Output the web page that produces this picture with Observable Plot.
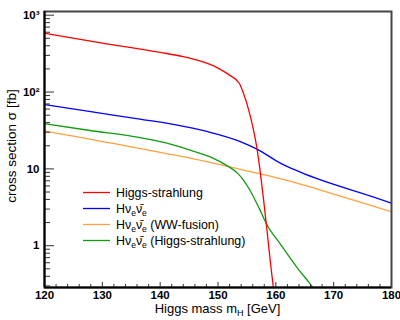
<!DOCTYPE html>
<html><head><meta charset="utf-8">
<script src="https://cdn.jsdelivr.net/npm/d3@7"></script>
<script src="https://cdn.jsdelivr.net/npm/@observablehq/plot@0.6"></script>
<style>body{margin:0;background:#fff} svg{display:block}</style>
</head><body><div id="chart"></div>
<script>
// Higgs-strahlung (e+e- -> ZH)
const hsMass  = [120,130,140,144,147,150,152,153.7,154.42,155.28,156.15,156.79,157.36,158.0,158.61,159.13,159.62,159.9];
const hsSigma = [580,434,328,289,252,205,166,129,95.6,59.6,31.7,17.4,8.5,3.33,1.27,0.548,0.267,0.18];
// H nu_e nubar_e (total)
const nnMass  = [120,128,136.5,142.3,148.1,153.85,156.74,160.77,164.24,179.83,180];
const nnSigma = [68.7,55.5,44.4,37.9,30.7,22.7,18.1,11.9,9.08,3.61,3.57];
// H nu_e nubar_e (WW-fusion)
const wwMass  = [120,125,130,135,140,145,150,155,160,165,170,175,180];
const wwSigma = [31,26.6,22.7,19.4,16.4,13.9,11.5,9.44,7.69,6.12,4.7,3.61,2.77];
// H nu_e nubar_e (Higgs-strahlung)
const zhMass  = [120,127.86,136.53,140.86,145.19,148.65,151.82,153.33,154.42,155.41,156.45,157.32,158.35,160.78,163.67,165.97,167.0];
const zhSigma = [38.8,31.6,25.5,21.9,17.5,14.3,10.7,8.87,7.1,5.48,3.87,2.86,1.95,1.05,0.52,0.316,0.25];

const xTicks = [120,130,140,150,160,170,180];
const xMinorTicks = d3.range(122,180,2).filter(v => v % 10 !== 0);
const yTicks = [1,10,100,1000];
const yTickLabels = ["1","10","10²","10³"];
const yMinorTicks = [0.3,0.4,0.5,0.6,0.7,0.8,0.9,2,3,4,5,6,7,8,9,20,30,40,50,60,70,80,90,200,300,400,500,600,700,800,900];

const seriesNames = ["Higgs-strahlung","Hν_e ν̄_e","Hν_e ν̄_e (WW-fusion)","Hν_e ν̄_e (Higgs-strahlung)"];
const seriesColors = ["#ff0000","#0000ff","#ffa040","#109a10"];

const W = 400, H = 320, mL = 44, mR = 9, mT = 11, mB = 33;
const plotW = W - mL - mR, plotH = H - mT - mB;
const yDomain = [0.286, 1117];
const font = "'Liberation Sans', Arial, Helvetica, sans-serif";

const toRows = (m, s) => m.map((x, i) => ({x, y: s[i]}));
const lineOpts = (c) => ({x: "x", y: "y", stroke: c, strokeWidth: 1.3, curve: "monotone-x", clip: true});

const chart = Plot.plot({
  width: W, height: H,
  marginLeft: mL, marginRight: mR, marginTop: mT, marginBottom: mB,
  style: {fontFamily: font, background: "#fff"},
  x: {domain: [120, 180], axis: null},
  y: {type: "log", domain: yDomain, axis: null},
  marks: [
    Plot.line(toRows(wwMass, wwSigma), lineOpts(seriesColors[2])),
    Plot.line(toRows(zhMass, zhSigma), lineOpts(seriesColors[3])),
    Plot.line(toRows(nnMass, nnSigma), lineOpts(seriesColors[1])),
    Plot.line(toRows(hsMass, hsSigma), lineOpts(seriesColors[0])),
    Plot.tickX(xMinorTicks, {x: d => d, insetTop: plotH - 3, stroke: "#333", strokeWidth: 1}),
    Plot.tickX(xTicks, {x: d => d, insetTop: plotH - 5, stroke: "#333", strokeWidth: 1}),
    Plot.tickY(yMinorTicks, {y: d => d, insetRight: plotW - 6, stroke: "#333", strokeWidth: 1}),
    Plot.tickY(yTicks, {y: d => d, insetRight: plotW - 10, stroke: "#333", strokeWidth: 1}),
    Plot.frame({stroke: "#444", strokeWidth: 2}),
    Plot.ruleX([120], {stroke: "#000", strokeWidth: 2}),
    Plot.ruleY([yDomain[0]], {stroke: "#000", strokeWidth: 2}),
    Plot.text(xTicks, {x: d => d, frameAnchor: "bottom", dy: 11, text: d => String(d), fontSize: 11.5, fontWeight: "bold", fill: "#000"}),
    Plot.text(yTicks, {y: d => d, frameAnchor: "left", dx: -5, textAnchor: "end", text: (d, i) => yTickLabels[i], fontSize: 11.5, fontWeight: "bold", fill: "#000"})
  ]
});

const svg = d3.select(chart);
// X axis title
const xt = svg.append("text").attr("x", mL + plotW / 2).attr("y", 313)
  .attr("text-anchor", "middle").attr("font-family", font).attr("font-size", 13).attr("fill", "#000");
xt.append("tspan").text("Higgs mass m");
xt.append("tspan").attr("dy", 3).attr("font-size", 9).text("H");
xt.append("tspan").attr("dy", -3).text(" [GeV]");
// Y axis title
svg.append("text").attr("transform", `translate(16,${mT + plotH / 2 - 3}) rotate(-90)`)
  .attr("text-anchor", "middle").attr("font-family", font).attr("font-size", 13.5).attr("fill", "#000")
  .text("cross section σ [fb]");

// Legend
const leg = svg.append("g").attr("font-family", font).attr("font-size", 12.4).attr("fill", "#000")
  .attr("text-anchor", "start");
const rowY = [192.5, 208.5, 224.5, 240.5];
seriesNames.forEach((name, i) => {
  const y = rowY[i];
  leg.append("line").attr("x1", 83).attr("x2", 110).attr("y1", y).attr("y2", y)
    .attr("stroke", seriesColors[i]).attr("stroke-width", 1.3);
  const t = leg.append("text").attr("x", 116).attr("y", y + 4.4).attr("text-anchor", "start");
  if (!name.includes("_")) { t.text(name); return; }
  t.append("tspan").text("Hν");
  t.append("tspan").attr("dy", 3.5).attr("font-size", 8.5).text("e");
  t.append("tspan").attr("dy", -3.5).text("ν̄");
  const rest = name.split("ν̄_e")[1];
  t.append("tspan").attr("dy", 3.5).attr("font-size", 8.5).text("e");
  t.append("tspan").attr("dy", -3.5).text(rest);
});

document.getElementById("chart").appendChild(chart);
</script>
</body></html>
